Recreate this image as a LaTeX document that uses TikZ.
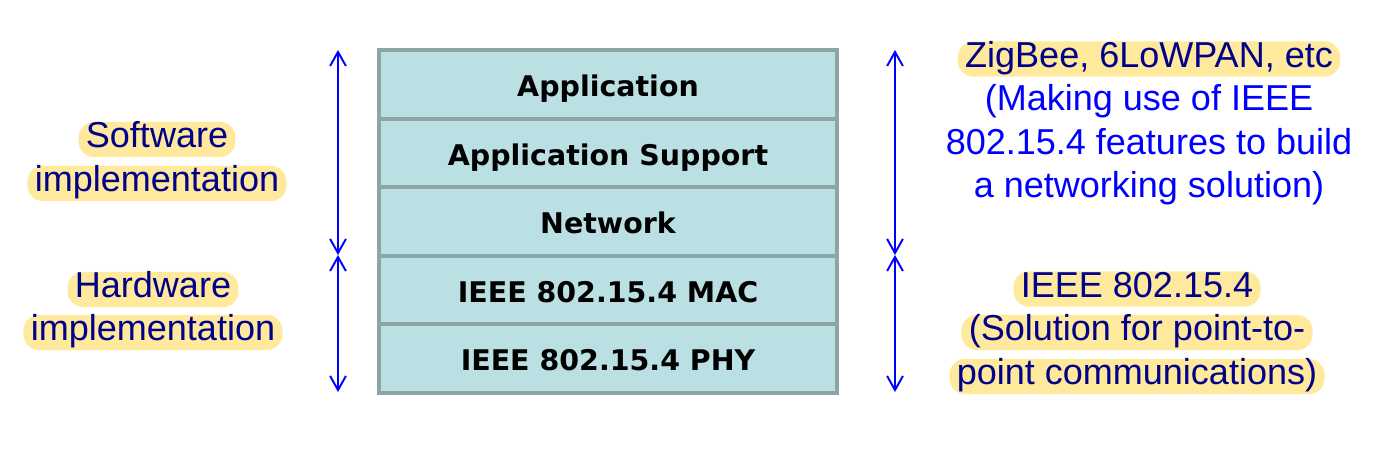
\documentclass[tikz,border=0pt]{standalone}
\usepackage{fontspec}
\setmainfont{Liberation Sans}
\newfontfamily\layerfont{DejaVu Sans}
\usetikzlibrary{arrows.meta}
\definecolor{layerfill}{HTML}{BBE0E3}
\definecolor{layerline}{HTML}{8CA5A5}
\definecolor{hlfill}{HTML}{FFE99C}
\definecolor{navy}{HTML}{000088}
\definecolor{brightblue}{HTML}{0000FF}
\tikzset{
  layer/.style={draw=layerline, line width=2.3pt, fill=layerfill,
    minimum width=9.16cm, minimum height=1.372cm, inner sep=0pt,
    text height=16pt, text depth=2pt,
    font=\layerfont\bfseries\fontsize{16.2}{19}\selectfont},
  hl/.style={fill=hlfill, rounded corners=9pt, inner xsep=4.2pt, inner ysep=0.3pt,
    text height=14.5pt, text depth=5pt,
    text=navy, font=\fontsize{20.5}{24}\selectfont},
  plain/.style={inner sep=0pt, text height=14.5pt, text depth=5pt,
    text=brightblue, font=\fontsize{20.5}{24}\selectfont},
  span/.style={draw=brightblue, line width=1.1pt,
    {Straight Barb[length=8pt,width=9pt]}-{Straight Barb[length=8pt,width=9pt]}}
}
\begin{document}
\begin{tikzpicture}[x=0.02cm,y=-0.02cm]
  \useasboundingbox (0,0) rectangle (1387,475);
  % protocol stack
  \node[layer] (app) at (608,84.3) {Application};
  \node[layer] (aps) at (608,152.9) {Application Support};
  \node[layer] (nwk) at (608,221.5) {Network};
  \node[layer] (mac) at (608,290.1) {IEEE 802.15.4 MAC};
  \node[layer] (phy) at (608,358.7) {IEEE 802.15.4 PHY};
  % arrow ends
  \coordinate (lt) at (338,50);
  \coordinate (lm) at (338,255);
  \coordinate (lb) at (338,392);
  \coordinate (rt) at (895,50);
  \coordinate (rm) at (895,255);
  \coordinate (rb) at (895,392);
  \draw[span] (lt) -- (lm);
  \draw[span] (lm) -- (lb);
  \draw[span] (rt) -- (rm);
  \draw[span] (rm) -- (rb);
  % left side
  \node[hl] (sw1) at (157,139.5) {Software};
  \node[hl] (sw2) at (157,183.5) {implementation};
  \node[hl] (hw1) at (153,289.5) {Hardware};
  \node[hl] (hw2) at (153,332.5) {implementation};
  % right side
  \node[hl] (zb) at (1149,59) {ZigBee, 6LoWPAN, etc};
  \node[plain] (zb2) at (1149,102) {(Making use of IEEE};
  \node[plain] (zb3) at (1149,146) {802.15.4 features to build};
  \node[plain] (zb4) at (1149,189) {a networking solution)};
  \node[hl] (ie1) at (1137,289) {IEEE 802.15.4};
  \node[hl] (ie2) at (1137,332.5) {(Solution for point-to-};
  \node[hl] (ie3) at (1137,376.5) {point communications)};
\end{tikzpicture}
\end{document}
